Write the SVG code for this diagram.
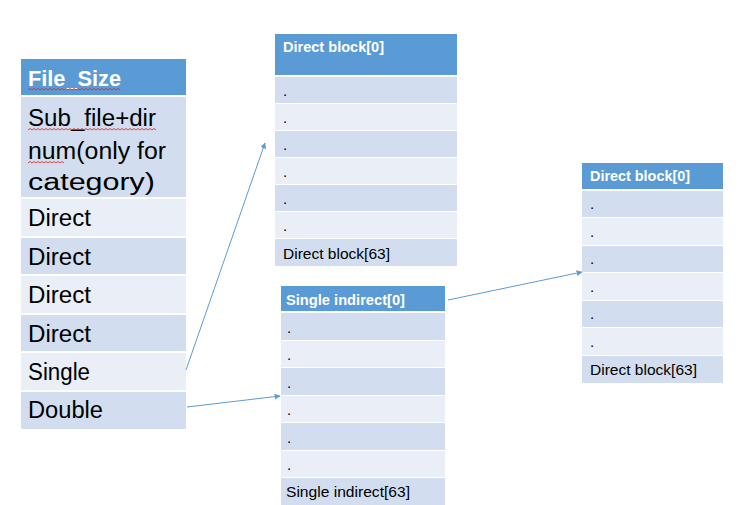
<svg xmlns="http://www.w3.org/2000/svg" width="748" height="505" viewBox="0 0 748 505">
<style>
.hd{fill:#5B9BD5}
.dk{fill:#D2DEEF}
.lt{fill:#EAEFF7}
.big{font-family:"Liberation Sans",Arial,sans-serif;font-size:23px;fill:#000}
.bigb{font-family:"Liberation Sans",Arial,sans-serif;font-size:22px;font-weight:bold;fill:#fff}
.sm{font-family:"Liberation Sans",Arial,sans-serif;font-size:15px;fill:#000}
.smb{font-family:"Liberation Sans",Arial,sans-serif;font-size:14.5px;font-weight:bold;fill:#fff}
.sq{fill:none;stroke:#E03030;stroke-width:0.9}
.conn{stroke:#5B9BD5;stroke-width:1;fill:none;marker-end:url(#ah)}
</style>
<defs>
<marker id="ah" viewBox="0 0 10 10" refX="9" refY="5" markerWidth="6" markerHeight="6" orient="auto" markerUnits="userSpaceOnUse">
<path d="M0,0 L10,5 L0,10 z" fill="#5B9BD5"/>
</marker>
</defs>
<rect width="748" height="505" fill="#fff"/>

<g id="file-size-table">
<rect class="hd" x="21" y="59" width="165" height="36"/>
<rect class="dk" x="21" y="97" width="165" height="100"/>
<rect class="lt" x="21" y="199" width="165" height="37"/>
<rect class="dk" x="21" y="238" width="165" height="36"/>
<rect class="lt" x="21" y="276" width="165" height="37"/>
<rect class="dk" x="21" y="315" width="165" height="36"/>
<rect class="lt" x="21" y="353" width="165" height="37"/>
<rect class="dk" x="21" y="392" width="165" height="37"/>
<text class="bigb" x="28" y="86" textLength="93" lengthAdjust="spacingAndGlyphs">File_Size</text>
<text class="big" x="28" y="126" textLength="128" lengthAdjust="spacingAndGlyphs">Sub_file+dir</text>
<text class="big" x="28" y="159" textLength="138" lengthAdjust="spacingAndGlyphs">num(only for</text>
<text class="big" x="28" y="190" textLength="127" lengthAdjust="spacingAndGlyphs">category)</text>
<text class="big" x="28" y="226" textLength="63" lengthAdjust="spacingAndGlyphs">Direct</text>
<text class="big" x="28" y="265" textLength="63" lengthAdjust="spacingAndGlyphs">Direct</text>
<text class="big" x="28" y="303" textLength="63" lengthAdjust="spacingAndGlyphs">Direct</text>
<text class="big" x="28" y="342" textLength="63" lengthAdjust="spacingAndGlyphs">Direct</text>
<text class="big" x="28" y="380" textLength="62" lengthAdjust="spacingAndGlyphs">Single</text>
<text class="big" x="28" y="418" textLength="75" lengthAdjust="spacingAndGlyphs">Double</text>
<path class="sq" d="M28,90 l2,-1.5 l2,1.5 l2,-1.5 l2,1.5 l2,-1.5 l2,1.5 l2,-1.5 l2,1.5 l2,-1.5 l2,1.5 l2,-1.5 l2,1.5 l2,-1.5 l2,1.5 l2,-1.5 l2,1.5 l2,-1.5 l2,1.5 l2,-1.5 l2,1.5 l2,-1.5 l2,1.5 l2,-1.5 l2,1.5 l2,-1.5 l2,1.5 l2,-1.5 l2,1.5 l2,-1.5 l2,1.5 l2,-1.5 l2,1.5 l2,-1.5 l2,1.5 l2,-1.5 l2,1.5 l2,-1.5 l2,1.5 l2,-1.5 l2,1.5 l2,-1.5 l2,1.5 l2,-1.5 l2,1.5 l2,-1.5 l2,1.5"/>
<path class="sq" d="M28,130 l2,-1.5 l2,1.5 l2,-1.5 l2,1.5 l2,-1.5 l2,1.5 l2,-1.5 l2,1.5 l2,-1.5 l2,1.5 l2,-1.5 l2,1.5 l2,-1.5 l2,1.5 l2,-1.5 l2,1.5 l2,-1.5 l2,1.5 l2,-1.5 l2,1.5 l2,-1.5 l2,1.5 l2,-1.5 l2,1.5 l2,-1.5 l2,1.5 l2,-1.5 l2,1.5 l2,-1.5 l2,1.5 l2,-1.5 l2,1.5 l2,-1.5 l2,1.5 l2,-1.5 l2,1.5 l2,-1.5 l2,1.5 l2,-1.5 l2,1.5 l2,-1.5 l2,1.5 l2,-1.5 l2,1.5 l2,-1.5 l2,1.5 l2,-1.5 l2,1.5 l2,-1.5 l2,1.5 l2,-1.5 l2,1.5 l2,-1.5 l2,1.5 l2,-1.5 l2,1.5 l2,-1.5 l2,1.5 l2,-1.5 l2,1.5 l2,-1.5 l2,1.5 l2,-1.5 l2,1.5"/>
<path class="sq" d="M28,163 l2,-1.5 l2,1.5 l2,-1.5 l2,1.5 l2,-1.5 l2,1.5 l2,-1.5 l2,1.5 l2,-1.5 l2,1.5 l2,-1.5 l2,1.5 l2,-1.5 l2,1.5 l2,-1.5 l2,1.5 l2,-1.5 l2,1.5"/>
</g>

<g id="direct-block-table-top">
<rect class="hd" x="275" y="34" width="182" height="41"/>
<rect class="dk" x="275" y="77" width="182" height="26"/>
<rect class="lt" x="275" y="104" width="182" height="26"/>
<rect class="dk" x="275" y="131" width="182" height="26"/>
<rect class="lt" x="275" y="158" width="182" height="26"/>
<rect class="dk" x="275" y="185" width="182" height="26"/>
<rect class="lt" x="275" y="212" width="182" height="26"/>
<rect class="dk" x="275" y="239" width="182" height="27"/>
<text class="smb" x="283" y="52" textLength="101" lengthAdjust="spacingAndGlyphs">Direct block[0]</text>
<text class="sm" x="283" y="96">.</text>
<text class="sm" x="283" y="123">.</text>
<text class="sm" x="283" y="150">.</text>
<text class="sm" x="283" y="177">.</text>
<text class="sm" x="283" y="204">.</text>
<text class="sm" x="283" y="231">.</text>
<text class="sm" x="283" y="259" textLength="107" lengthAdjust="spacingAndGlyphs">Direct block[63]</text>
</g>

<g id="single-indirect-table">
<rect class="hd" x="281" y="286" width="164" height="25"/>
<rect class="dk" x="281" y="313" width="164" height="27"/>
<rect class="lt" x="281" y="341" width="164" height="26"/>
<rect class="dk" x="281" y="368" width="164" height="27"/>
<rect class="lt" x="281" y="396" width="164" height="26"/>
<rect class="dk" x="281" y="423" width="164" height="27"/>
<rect class="lt" x="281" y="451" width="164" height="26"/>
<rect class="dk" x="281" y="478" width="164" height="27"/>
<text class="smb" x="286" y="305" textLength="119" lengthAdjust="spacingAndGlyphs">Single indirect[0]</text>
<text class="sm" x="287" y="333">.</text>
<text class="sm" x="287" y="360">.</text>
<text class="sm" x="287" y="388">.</text>
<text class="sm" x="287" y="415">.</text>
<text class="sm" x="287" y="443">.</text>
<text class="sm" x="287" y="470">.</text>
<text class="sm" x="286" y="497" textLength="124" lengthAdjust="spacingAndGlyphs">Single indirect[63]</text>
</g>

<g id="direct-block-table-right">
<rect class="hd" x="582" y="163" width="141" height="26"/>
<rect class="dk" x="582" y="191" width="141" height="26"/>
<rect class="lt" x="582" y="218" width="141" height="27"/>
<rect class="dk" x="582" y="246" width="141" height="26"/>
<rect class="lt" x="582" y="273" width="141" height="27"/>
<rect class="dk" x="582" y="301" width="141" height="26"/>
<rect class="lt" x="582" y="328" width="141" height="27"/>
<rect class="dk" x="582" y="356" width="141" height="27"/>
<text class="smb" x="590" y="181" textLength="100" lengthAdjust="spacingAndGlyphs">Direct block[0]</text>
<text class="sm" x="590" y="209">.</text>
<text class="sm" x="590" y="237">.</text>
<text class="sm" x="590" y="264">.</text>
<text class="sm" x="590" y="292">.</text>
<text class="sm" x="590" y="319">.</text>
<text class="sm" x="590" y="347">.</text>
<text class="sm" x="590" y="375" textLength="107" lengthAdjust="spacingAndGlyphs">Direct block[63]</text>
</g>

<g id="connectors">
<line class="conn" x1="186" y1="370" x2="265" y2="143"/>
<line class="conn" x1="187" y1="407" x2="280" y2="396"/>
<line class="conn" x1="448" y1="300" x2="582" y2="272"/>
</g>
</svg>
